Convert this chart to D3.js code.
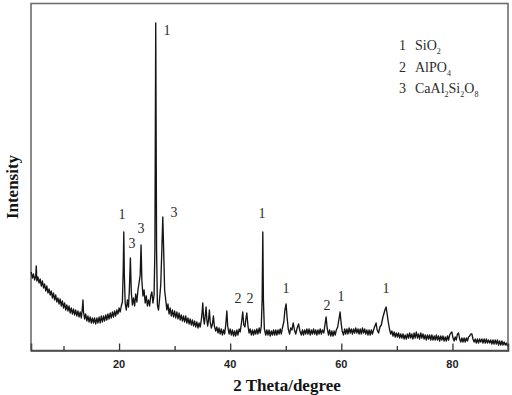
<!DOCTYPE html>
<html>
<head>
<meta charset="utf-8">
<script src="https://cdn.jsdelivr.net/npm/d3@7"></script>
<style>
  html, body { margin: 0; padding: 0; background: #fff; }
  svg { display: block; }
  text { opacity: 0.99; }
</style>
</head>
<body>
<div id="chart"></div>
<script>
'use strict';

// scan: [2theta, counts]
var scan = [
  [4.2,785],[4.4,725],[4.6,765],[4.8,705],[5.0,745],[5.1,845],[5.2,695],[5.4,735],[5.6,675],[5.8,715],
  [6.0,645],[6.2,695],[6.4,625],[6.6,665],[6.8,595],[7.0,645],[7.2,575],[7.4,615],[7.6,555],[7.8,595],
  [8.0,525],[8.2,575],[8.4,505],[8.6,555],[8.8,485],[9.0,525],[9.2,465],[9.4,515],[9.6,445],[9.8,495],
  [10.0,425],[10.2,475],[10.4,405],[10.6,455],[10.8,395],[11.0,445],[11.2,375],[11.4,425],[11.6,365],[11.8,415],
  [12.0,355],[12.2,405],[12.4,345],[12.6,395],[12.8,335],[13.0,385],[13.2,325],[13.4,425],[13.5,505],[13.6,385],
  [13.8,315],[14.0,365],[14.2,295],[14.4,345],[14.6,285],[14.8,335],[15.0,275],[15.2,325],[15.4,275],[15.6,325],
  [15.8,265],[16.0,325],[16.2,275],[16.4,335],[16.6,275],[16.8,345],[17.0,285],[17.2,345],[17.4,295],[17.6,355],
  [17.8,305],[18.0,365],[18.2,315],[18.4,375],[18.6,325],[18.8,385],[19.0,335],[19.2,395],[19.4,345],[19.6,405],
  [19.8,365],[20.0,425],[20.2,385],[20.4,445],[20.6,485],[20.75,805],[20.85,1185],[20.95,755],[21.1,475],[21.3,405],
  [21.5,505],[21.7,435],[21.85,605],[22.04,925],[22.2,585],[22.4,455],[22.6,525],[22.8,445],[23.0,565],[23.2,485],
  [23.4,605],[23.6,675],[23.8,755],[23.96,1055],[24.1,705],[24.3,545],[24.5,605],[24.7,475],[24.9,545],[25.1,445],
  [25.3,505],[25.5,445],[25.7,545],[25.9,585],[26.1,475],[26.3,555],[26.45,1005],[26.6,3275],[26.75,1005],[26.9,455],
  [27.1,405],[27.3,525],[27.5,655],[27.7,1005],[27.87,1335],[28.05,955],[28.2,605],[28.4,505],[28.6,405],[28.8,465],
  [29.0,365],[29.2,425],[29.4,345],[29.6,405],[29.8,335],[30.0,395],[30.2,325],[30.4,385],[30.6,315],[30.8,375],
  [31.0,305],[31.2,355],[31.4,295],[31.6,345],[31.8,285],[32.0,345],[32.2,275],[32.4,325],[32.6,265],[32.8,315],
  [33.0,255],[33.2,305],[33.4,245],[33.6,295],[33.8,235],[34.0,285],[34.2,225],[34.4,275],[34.6,235],[34.8,305],
  [34.95,385],[35.07,475],[35.2,325],[35.35,265],[35.5,345],[35.66,435],[35.8,305],[35.95,245],[36.1,305],[36.26,405],
  [36.4,285],[36.6,225],[36.8,265],[36.98,345],[37.15,245],[37.4,195],[37.6,235],[37.8,175],[38.0,225],[38.2,165],
  [38.4,215],[38.6,155],[38.8,205],[39.0,165],[39.2,255],[39.4,395],[39.55,245],[39.8,165],[40.0,215],[40.2,155],
  [40.4,205],[40.6,145],[40.8,195],[41.0,145],[41.2,205],[41.4,155],[41.6,215],[41.8,185],[42.05,285],[42.26,385],
  [42.45,255],[42.65,235],[42.85,325],[42.99,375],[43.2,245],[43.4,175],[43.6,215],[43.8,155],[44.0,205],[44.2,155],
  [44.4,205],[44.6,165],[44.8,215],[45.0,165],[45.2,225],[45.4,175],[45.6,245],[45.75,505],[45.87,1185],[45.98,505],
  [46.15,215],[46.4,155],[46.6,205],[46.8,155],[47.0,205],[47.2,145],[47.4,195],[47.6,155],[47.8,205],[48.0,155],
  [48.2,205],[48.4,155],[48.6,205],[48.8,165],[49.0,215],[49.2,165],[49.4,225],[49.65,285],[49.85,405],[50.06,465],
  [50.25,325],[50.45,215],[50.7,165],[50.9,225],[51.1,205],[51.35,275],[51.6,195],[51.8,165],[52.05,225],[52.3,265],
  [52.55,195],[52.8,155],[53.0,205],[53.2,155],[53.4,205],[53.6,165],[53.8,215],[54.0,165],[54.2,215],[54.4,155],
  [54.6,205],[54.8,165],[55.0,215],[55.2,165],[55.4,205],[55.6,155],[55.8,205],[56.0,165],[56.2,215],[56.4,165],
  [56.6,205],[56.85,175],[57.05,255],[57.26,335],[57.45,225],[57.7,155],[57.9,205],[58.1,145],[58.3,195],[58.5,145],
  [58.7,195],[58.9,155],[59.1,205],[59.35,235],[59.55,305],[59.78,385],[59.95,285],[60.15,195],[60.4,155],[60.6,215],
  [60.8,165],[61.0,215],[61.2,165],[61.4,225],[61.6,175],[61.8,215],[62.0,165],[62.2,215],[62.4,175],[62.6,225],
  [62.8,175],[63.0,215],[63.2,165],[63.4,215],[63.6,165],[63.8,225],[64.0,175],[64.2,215],[64.4,165],[64.6,205],
  [64.8,155],[65.0,205],[65.2,155],[65.4,205],[65.6,165],[65.85,215],[66.05,245],[66.26,275],[66.45,205],[66.7,175],
  [66.95,235],[67.2,255],[67.45,325],[67.65,365],[67.85,405],[68.06,435],[68.25,365],[68.45,285],[68.7,205],[68.9,165],
  [69.1,195],[69.3,145],[69.5,185],[69.7,135],[69.9,175],[70.1,135],[70.3,175],[70.5,125],[70.7,165],[70.9,125],
  [71.1,165],[71.3,115],[71.5,155],[71.7,115],[71.9,165],[72.1,125],[72.3,175],[72.5,125],[72.7,165],[72.9,115],
  [73.1,175],[73.3,125],[73.5,185],[73.7,125],[73.9,165],[74.1,115],[74.3,175],[74.5,125],[74.7,165],[74.9,115],
  [75.1,155],[75.3,105],[75.5,155],[75.7,115],[75.9,155],[76.1,105],[76.3,155],[76.5,105],[76.7,145],[76.9,105],
  [77.1,155],[77.3,105],[77.5,145],[77.7,95],[77.9,145],[78.1,105],[78.3,145],[78.5,95],[78.7,135],[78.9,95],
  [79.1,145],[79.3,105],[79.5,155],[79.7,175],[79.9,185],[80.1,125],[80.3,95],[80.5,135],[80.7,105],[80.9,165],
  [81.1,175],[81.3,115],[81.5,85],[81.7,125],[81.9,85],[82.1,125],[82.3,85],[82.5,125],[82.7,95],[82.9,135],
  [83.1,145],[83.3,165],[83.5,165],[83.7,115],[83.9,85],[84.1,115],[84.3,75],[84.5,115],[84.7,75],[84.9,115],
  [85.1,85],[85.3,115],[85.5,75],[85.7,115],[85.9,75],[86.1,115],[86.3,75],[86.5,105],[86.7,75],[86.9,105],
  [87.1,65],[87.3,105],[87.5,65],[87.7,105],[87.9,65],[88.1,105],[88.3,55],[88.5,95],[88.7,55],[88.9,95],
  [89.1,55],[89.3,85],[89.5,55],[89.7,75],[89.9,45]
];

// phase marks above the peaks
var peakTheta = [28.64, 20.54, 22.34, 23.96, 29.9, 45.74, 41.42, 43.58, 50.06, 57.44, 59.96, 68.06];
var peakCounts = [3155, 1315, 1025, 1175, 1335, 1325, 475, 475, 575, 405, 495, 575];
var peakPhase = ['1', '1', '3', '3', '3', '1', '2', '2', '1', '2', '1', '1'];

// legend: phase number and formula parts [text, isSubscript]
var legendPhase = ['1', '2', '3'];
var legendFormula = [
  [['SiO', false], ['2', true]],
  [['AlPO', false], ['4', true]],
  [['CaAl', false], ['2', true], ['Si', false], ['2', true], ['O', false], ['8', true]]
];

var majorTicks = [20, 40, 60, 80];
var minorTicks = [10, 30, 50, 70];

var W = 512, H = 395;
var margin = {top: 3.5, right: 4, bottom: 44.5, left: 31};

var x = d3.scaleLinear().domain([4.15, 90]).range([margin.left, W - margin.right]);
var y = d3.scaleLinear().domain([0, 3470]).range([H - margin.bottom, margin.top]);

var svg = d3.select('#chart')
    .append('svg')
    .attr('width', W)
    .attr('height', H);

// the frame
svg.append('rect')
    .attr('x', x.range()[0])
    .attr('y', y.range()[1])
    .attr('width', x.range()[1] - x.range()[0])
    .attr('height', y.range()[0] - y.range()[1])
    .attr('fill', 'none')
    .attr('stroke', '#6e6e6e')
    .attr('stroke-width', 1.6);

// bottom axis, ticks pointing inward
var axisB = svg.append('g')
    .attr('transform', 'translate(0,' + y(0) + ')')
    .call(d3.axisTop(x).tickValues(majorTicks).tickSize(7).tickFormat(''));
axisB.select('.domain').attr('stroke', '#444').attr('stroke-width', 1.6);
axisB.selectAll('.tick line').attr('stroke', '#333').attr('stroke-width', 1.3);

var axisM = svg.append('g')
    .attr('transform', 'translate(0,' + y(0) + ')')
    .call(d3.axisTop(x).tickValues(minorTicks).tickSize(4.5).tickFormat(''));
axisM.select('.domain').remove();
axisM.selectAll('.tick line').attr('stroke', '#333').attr('stroke-width', 1.3);

svg.append('g')
    .selectAll('text')
    .data(majorTicks)
    .join('text')
    .attr('x', function(d) { return x(d); })
    .attr('y', y(0) + 17)
    .attr('text-anchor', 'middle')
    .attr('font-family', 'Liberation Sans, Arial, sans-serif')
    .attr('font-weight', 'bold')
    .attr('font-size', 11)
    .attr('fill', '#222')
    .text(function(d) { return d; });

// the diffraction pattern
var line = d3.line()
    .x(function(d) { return x(d[0]); })
    .y(function(d) { return y(d[1]); });

svg.append('path')
    .datum(scan)
    .attr('fill', 'none')
    .attr('stroke', '#151515')
    .attr('stroke-width', 1.35)
    .attr('stroke-linejoin', 'round')
    .attr('d', line);

// peak labels
svg.append('g')
    .selectAll('text')
    .data(peakTheta)
    .join('text')
    .attr('x', function(d) { return x(d); })
    .attr('y', function(d, i) { return y(peakCounts[i]); })
    .attr('text-anchor', 'middle')
    .attr('font-family', 'Liberation Serif, Times New Roman, serif')
    .attr('font-size', 14)
    .attr('fill', '#2a2a2a')
    .text(function(d, i) { return peakPhase[i]; });

// legend
var leg = svg.append('g')
    .attr('font-family', 'Liberation Serif, Times New Roman, serif')
    .attr('font-size', 14)
    .attr('fill', '#2a2a2a');

legendPhase.forEach(function(p, i) {
    var by = 50 + i * 21.5;
    leg.append('text').attr('x', 399).attr('y', by).text(p);
    var t = leg.append('text').attr('x', 415).attr('y', by);
    legendFormula[i].forEach(function(part) {
        var s = t.append('tspan').text(part[0]);
        if (part[1]) {
            s.attr('font-size', 8).attr('dy', 4);
        } else {
            s.attr('dy', t.selectAll('tspan').size() > 1 ? -4 : 0);
        }
    });
});

// axis titles
svg.append('text')
    .attr('x', 287)
    .attr('y', 391)
    .attr('text-anchor', 'middle')
    .attr('font-family', 'Liberation Serif, Times New Roman, serif')
    .attr('font-weight', 'bold')
    .attr('font-size', 17)
    .attr('fill', '#111')
    .text('2 Theta/degree');

svg.append('text')
    .attr('transform', 'translate(18,187) rotate(-90)')
    .attr('text-anchor', 'middle')
    .attr('font-family', 'Liberation Serif, Times New Roman, serif')
    .attr('font-weight', 'bold')
    .attr('font-size', 17)
    .attr('fill', '#111')
    .text('Intensity');
</script>
</body>
</html>
